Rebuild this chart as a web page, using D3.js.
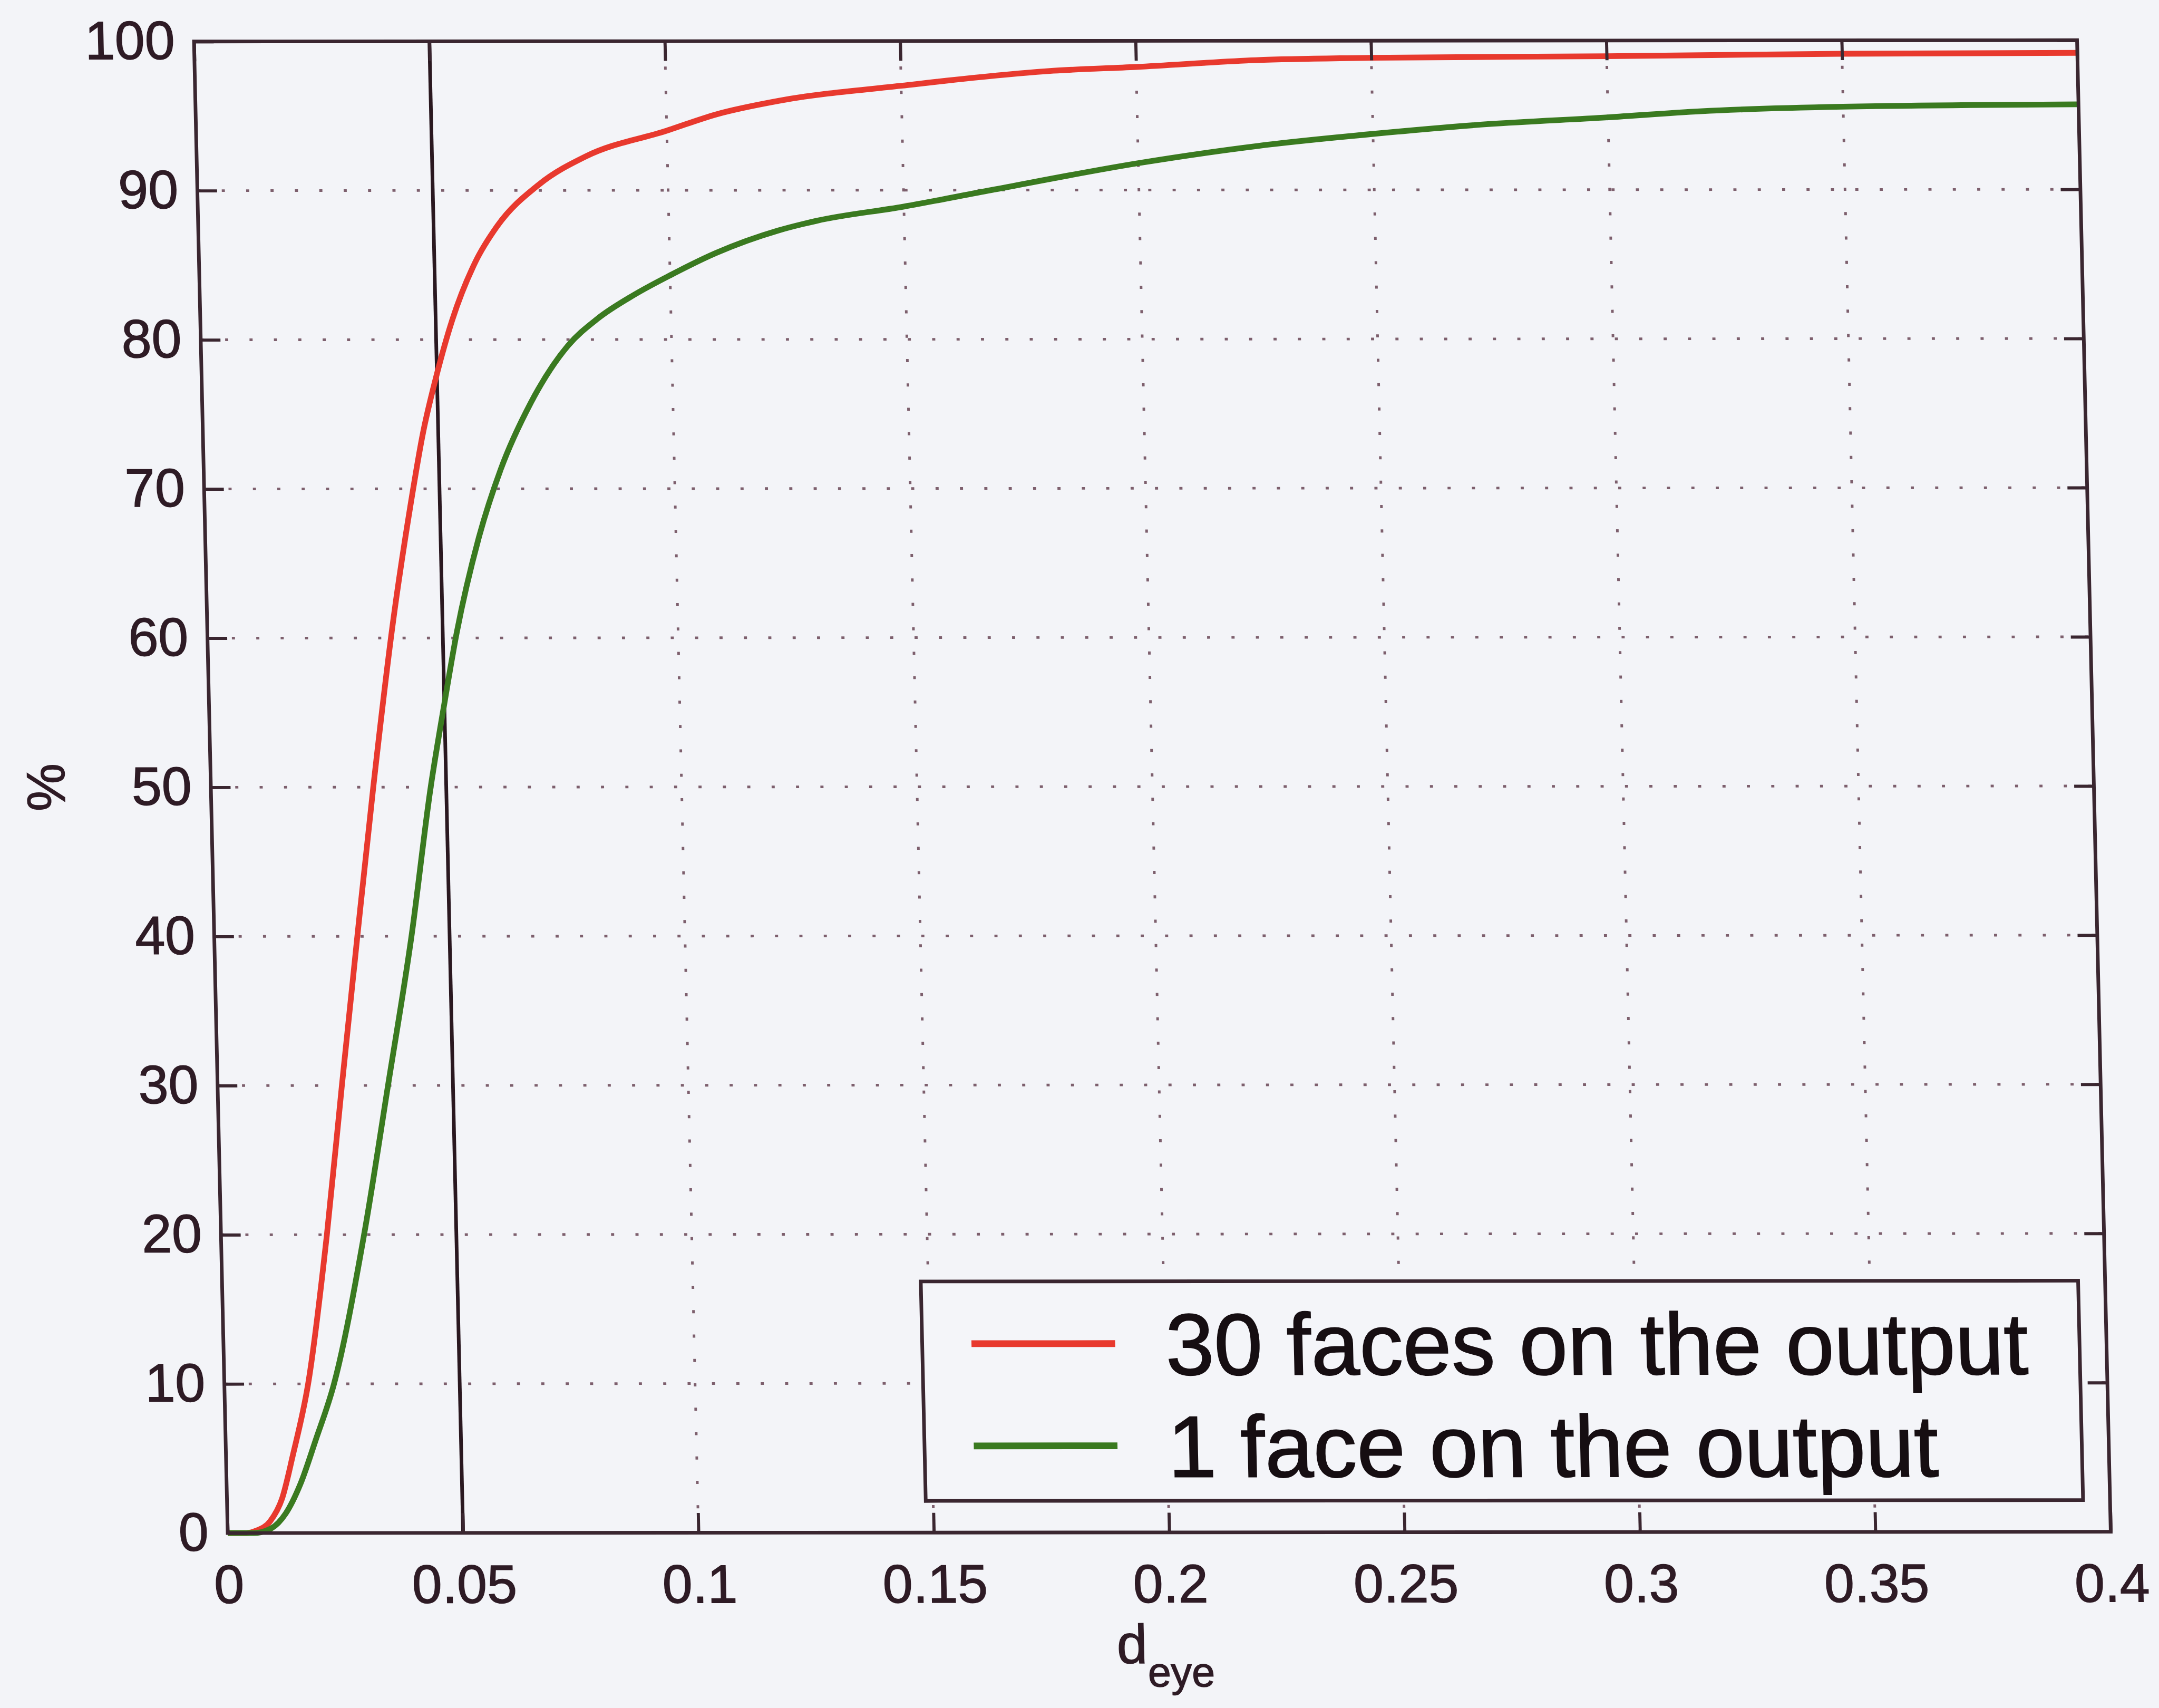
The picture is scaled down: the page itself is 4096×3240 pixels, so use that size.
<!DOCTYPE html>
<html>
<head>
<meta charset="utf-8">
<script src="https://cdn.jsdelivr.net/npm/d3@7"></script>
<style>
  html, body { margin: 0; padding: 0; background: #f3f4f8; }
  svg { display: block; }
  text { font-family: "Liberation Sans", Arial, Helvetica, sans-serif; }
</style>
</head>
<body>
<svg id="chart" width="4096" height="3240"></svg>
<script>
// ---- data -------------------------------------------------------------
const xTicks = [0, 0.05, 0.1, 0.15, 0.2, 0.25, 0.3, 0.35, 0.4];
const xTickLabels = ["0", "0.05", "0.1", "0.15", "0.2", "0.25", "0.3", "0.35", "0.4"];
const yTicks = [0, 10, 20, 30, 40, 50, 60, 70, 80, 90, 100];
const yTickLabels = ["0", "10", "20", "30", "40", "50", "60", "70", "80", "90", "100"];

const seriesNames = ["30 faces on the output", "1 face on the output"];
const seriesColors = ["#e8392e", "#3a7a20"];

// cumulative share of faces (%) against normalised eye distance d_eye
const dEye30 = [0, 0.004, 0.006, 0.0091, 0.0117, 0.0142, 0.0178, 0.0225, 0.0264, 0.0304,
  0.0345, 0.0396, 0.0437, 0.0468, 0.05, 0.0535, 0.0587, 0.0635, 0.0726, 0.0828,
  0.1, 0.1107, 0.124, 0.15, 0.1824, 0.2, 0.2255, 0.25, 0.3, 0.35, 0.4];
const pct30 = [0, 0, 0.15, 0.8, 2.3, 5.2, 10, 20, 30, 40,
  50, 61.3, 68.8, 73.8, 77.7, 81.3, 85.2, 87.6, 90.4, 92.3,
  94.0, 95.1, 96.0, 97.0, 98.0, 98.25, 98.7, 98.85, 98.95, 99.1, 99.15];

const dEye1 = [0, 0.0055, 0.0092, 0.0124, 0.0157, 0.0191, 0.0233, 0.0304, 0.0362, 0.0419,
  0.0467, 0.05, 0.053, 0.058, 0.0631, 0.0697, 0.078, 0.0844, 0.0923, 0.1,
  0.1099, 0.1232, 0.1314, 0.15, 0.1686, 0.2, 0.2255, 0.25, 0.2745, 0.3,
  0.3196, 0.35, 0.4];
const pct1 = [0, 0, 0.3, 1.3, 3.3, 6.2, 10, 20, 30, 40,
  50, 55.6, 60.4, 66.6, 71.3, 75.7, 79.6, 81.4, 83.0, 84.3,
  85.8, 87.3, 87.95, 88.9, 90.0, 91.8, 92.95, 93.75, 94.4, 94.85,
  95.25, 95.55, 95.7];

const thresholdD = [0.05];

// ---- layout -----------------------------------------------------------
const S = 4096 / 4162;           // overall scale of the drawing
const W = 3630, H = 2875;        // plot box in drawing units
const skewX = 0.0226, skewY = -0.0007, originX = 374, originY = 80;

const ink = "#2e1b25";
const frameInk = "#3a2630";
const gridInk = "#7d5f6d";

const svg = d3.select("#chart");
svg.append("rect").attr("width", 4096).attr("height", 3240).attr("fill", "#f3f4f8");

const g = svg.append("g")
  .attr("transform", `scale(${S}) matrix(1,${skewY},${skewX},1,${originX},${originY})`);

const x = d3.scaleLinear().domain([0, 0.4]).range([0, W]);
const y = d3.scaleLinear().domain([0, 100]).range([H, 0]);

// dotted grid
const grid = g.append("g").attr("stroke", gridInk).attr("stroke-width", 5)
  .attr("stroke-dasharray", "6 41").attr("fill", "none");
grid.selectAll("line.v").data(xTicks.slice(1, -1)).join("line")
  .attr("class", "v")
  .attr("x1", d => x(d)).attr("x2", d => x(d))
  .attr("y1", H).attr("y2", 0);
grid.selectAll("line.h").data(yTicks.slice(1, -1)).join("line")
  .attr("class", "h")
  .attr("x1", 0).attr("x2", W)
  .attr("y1", d => y(d)).attr("y2", d => y(d));

// threshold marker
g.selectAll("line.thr").data(thresholdD).join("line")
  .attr("class", "thr")
  .attr("x1", d => x(d)).attr("x2", d => x(d))
  .attr("y1", y(0)).attr("y2", y(100))
  .attr("stroke", "#2a1820").attr("stroke-width", 7);

// curves
const line = d3.line().x(d => x(d[0])).y(d => y(d[1])).curve(d3.curveMonotoneX);
const series = [d3.zip(dEye30, pct30), d3.zip(dEye1, pct1)];
g.selectAll("path.curve").data(series).join("path")
  .attr("class", "curve")
  .attr("d", line)
  .attr("fill", "none")
  .attr("stroke", (d, i) => seriesColors[i])
  .attr("stroke-width", 11)
  .attr("stroke-linejoin", "round");

// axes: ticks on all four sides pointing inward
const tickLen = 38;
const fontTick = 104;
function styleAxis(sel) {
  sel.select(".domain").remove();
  sel.selectAll(".tick line").attr("stroke", frameInk).attr("stroke-width", 6);
  sel.selectAll(".tick text").attr("fill", ink).attr("font-size", fontTick)
    .attr("stroke", ink).attr("stroke-width", 1.5)
    .attr("font-family", "'Liberation Sans', Arial, sans-serif");
}
g.append("g").attr("transform", `translate(0,${H})`)
  .call(d3.axisBottom(x).tickValues(xTicks).tickFormat((d, i) => xTickLabels[i])
    .tickSizeInner(-tickLen).tickSizeOuter(0).tickPadding(61))
  .call(styleAxis);
g.append("g")
  .call(d3.axisTop(x).tickValues(xTicks).tickFormat("")
    .tickSizeInner(-tickLen).tickSizeOuter(0))
  .call(styleAxis);
g.append("g")
  .call(d3.axisLeft(y).tickValues(yTicks).tickFormat((d, i) => yTickLabels[i])
    .tickSizeInner(-tickLen).tickSizeOuter(0).tickPadding(37))
  .call(styleAxis);
g.append("g").attr("transform", `translate(${W},0)`)
  .call(d3.axisRight(y).tickValues(yTicks).tickFormat("")
    .tickSizeInner(-tickLen).tickSizeOuter(0))
  .call(styleAxis);

// plot box
g.append("rect").attr("x", 0).attr("y", 0).attr("width", W).attr("height", H)
  .attr("fill", "none").attr("stroke", frameInk).attr("stroke-width", 7);

// axis titles
const xt = g.append("text")
  .attr("x", W / 2 - 12).attr("y", H + 252)
  .attr("text-anchor", "middle").attr("fill", ink).attr("font-size", 106)
  .attr("stroke", ink).attr("stroke-width", 1.5);
xt.append("tspan").text("d");
xt.append("tspan").attr("dy", 45).attr("font-size", 80).text("eye");

g.append("text")
  .attr("transform", `translate(-282,${H / 2}) rotate(-90)`)
  .attr("text-anchor", "middle").attr("fill", ink).attr("font-size", 104)
  .attr("stroke", ink).attr("stroke-width", 1.5)
  .text("%");

// legend
const lg = { x0: 1347, x1: 3578, y0: 2391, y1: 2814 };
const legend = g.append("g");
legend.append("rect")
  .attr("x", lg.x0).attr("y", lg.y0)
  .attr("width", lg.x1 - lg.x0).attr("height", lg.y1 - lg.y0)
  .attr("fill", "#f4f5f9").attr("stroke", frameInk).attr("stroke-width", 7);
const rows = legend.selectAll("g.row").data(seriesNames).join("g")
  .attr("class", "row")
  .attr("transform", (d, i) => `translate(0,${2511 + i * 197})`);
rows.append("line")
  .attr("x1", 1442).attr("x2", 1719).attr("y1", 0).attr("y2", 0)
  .attr("stroke", (d, i) => seriesColors[i]).attr("stroke-width", 13);
rows.append("text")
  .attr("x", 1816).attr("y", 60)
  .attr("fill", "#160e12").attr("font-size", 168)
  .attr("stroke", "#160e12").attr("stroke-width", 2)
  .text(d => d);
</script>
</body>
</html>
